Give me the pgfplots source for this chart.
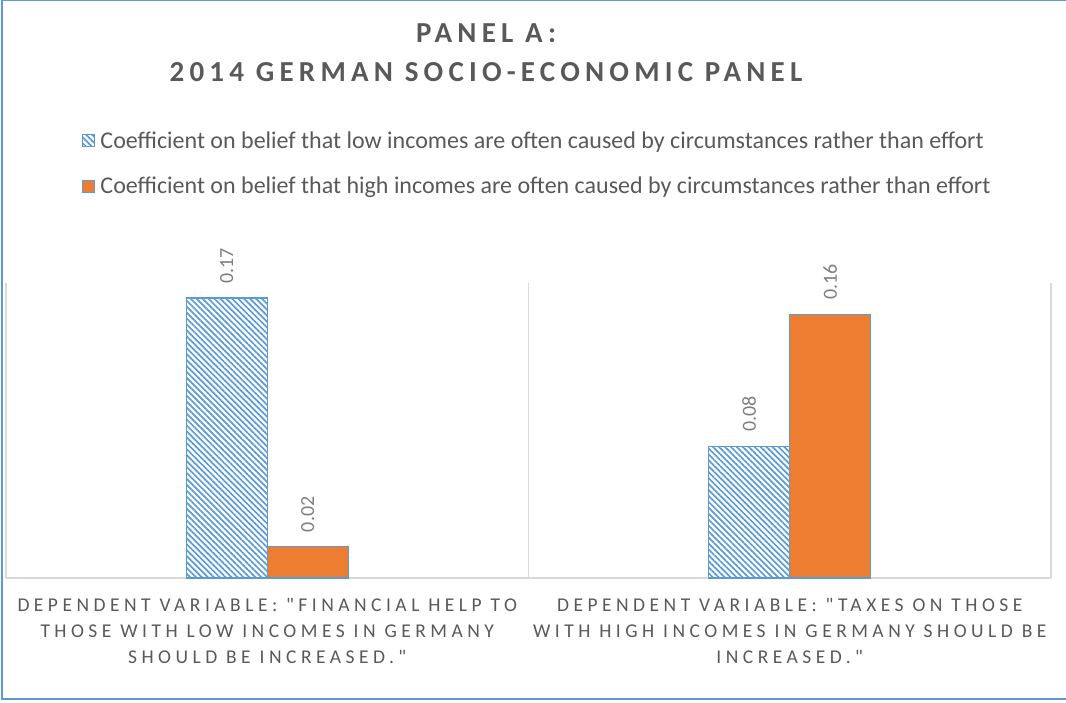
\documentclass[border=0pt]{standalone}
\usepackage{fontspec}
\setmainfont{Carlito}
\newfontfamily\titlefont[LetterSpace=18]{Carlito}
\newfontfamily\labfont[LetterSpace=23]{Carlito}
\usepackage{pgfplots}
\pgfplotsset{compat=1.18}
\usetikzlibrary{patterns.meta}
\definecolor{xblue}{HTML}{5B9BD5}
\definecolor{xorange}{HTML}{ED7D31}
\definecolor{txtgray}{HTML}{595959}
\definecolor{lblgray}{HTML}{7F7F7F}
\definecolor{gridgray}{HTML}{D9D9D9}
\begin{document}
\begin{tikzpicture}[x=1pt,y=1pt]
\useasboundingbox (-6,-124) rectangle (1060,578);
\begin{scope}
\clip (-6,-124) rectangle (1060,578);
\draw[xblue, line width=1.5pt] (1065,577.25)--(-4,577.25)--(-4,-121)--(1065,-121);
\end{scope}
\node[anchor=base, font=\titlefont\bfseries\fontsize{29}{32}\selectfont, text=txtgray] at (480,535) {PANEL A:};
\node[anchor=base, font=\titlefont\bfseries\fontsize{29}{32}\selectfont, text=txtgray] at (480,496) {2014 GERMAN SOCIO-ECONOMIC PANEL};
\begin{axis}[
  scale only axis, width=1045pt, height=295pt,
  ymin=0, ymax=0.1791, xmin=-0.5, xmax=1.5,
  enlargelimits=false, clip=false,
  ybar=0pt, bar width=81pt,
  axis x line*=bottom, axis y line=none,
  x axis line style={gridgray, line width=1.2pt},
  xtick={0,1}, major tick length=0pt,
  xticklabels={{DEPENDENT VARIABLE: "FINANCIAL HELP TO\\THOSE WITH LOW INCOMES IN GERMANY\\SHOULD BE INCREASED."},{DEPENDENT VARIABLE: "TAXES ON THOSE\\WITH HIGH INCOMES IN GERMANY SHOULD BE\\INCREASED."}},
  xticklabel style={font=\labfont\fontsize{19.5}{26}\selectfont, text=txtgray, align=center, yshift=-17pt},
  extra x ticks={-0.5,0.5,1.5}, extra x tick labels={},
  extra x tick style={grid=major, major grid style={gridgray, line width=1.2pt}},
  nodes near coords,
  nodes near coords style={rotate=90, anchor=west, font=\fontsize{20}{24}\selectfont, text=lblgray, inner xsep=14pt, inner ysep=0pt,
    /pgf/number format/.cd, fixed, fixed zerofill, precision=2, assume math mode=true},
  legend style={at={(0.073,1.52)}, anchor=north west, draw=none, fill=none, font=\fontsize{24}{28}\selectfont, text=txtgray, row sep=23pt, inner sep=0pt, nodes={inner xsep=5pt}},
  legend cell align=left,
  legend image code/.code={\draw[#1, line width=1pt] (0pt,-6pt) rectangle (12pt,6pt);},
]
\addplot[draw=xblue, line width=1.2pt, pattern={Lines[angle=-45,distance=4.2pt,line width=1.7pt]}, pattern color=xblue] coordinates {(0,0.17) (1,0.08)};
\addplot[draw=xblue, line width=1.2pt, fill=xorange] coordinates {(0,0.019) (1,0.16)};
\legend{Coefficient on belief that low incomes are often caused by circumstances rather than effort, Coefficient on belief that high incomes are often caused by circumstances rather than effort}
\end{axis}
\end{tikzpicture}
\end{document}
